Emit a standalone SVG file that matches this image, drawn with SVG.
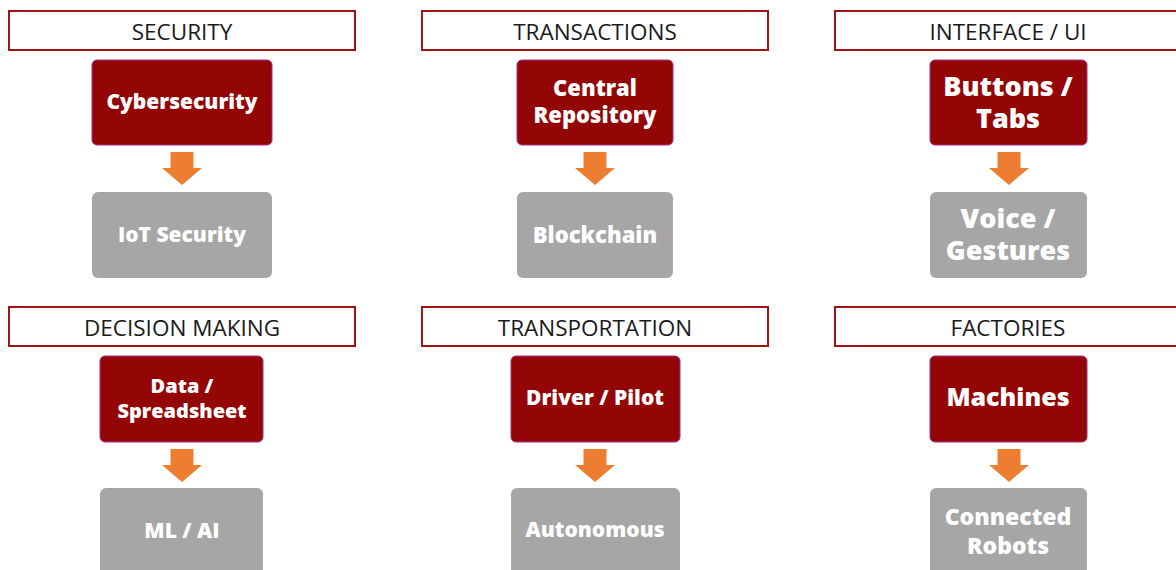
<svg xmlns="http://www.w3.org/2000/svg" width="1176" height="570" viewBox="0 0 1176 570">
<defs>
<style>
.hdr{fill:#fff;stroke:#9e1414;stroke-width:2}
.ht{font-family:"Open Sans","Liberation Sans",sans-serif;font-size:22.5px;fill:#1a1a1a;text-anchor:middle;dominant-baseline:central}
.red{fill:#940606;stroke:#a0308a;stroke-width:1}
.gry{fill:#a6a6a6}
.bt{font-family:"Open Sans","Noto Sans",sans-serif;font-weight:800;fill:#fff;text-anchor:middle;dominant-baseline:central}
.arr{fill:#ed7d31}
</style>
<path id="ar" d="M-11.5,0 H11.5 V16 H20 L0,33 L-20,16 H-11.5 Z"/>
</defs>
<rect width="1176" height="570" fill="#fff"/>
<g id="security">
<rect class="hdr" x="9" y="11" width="346" height="39"/>
<text class="ht" x="182" y="31">SECURITY</text>
</g>
<g id="transactions">
<rect class="hdr" x="422" y="11" width="346" height="39"/>
<text class="ht" x="595" y="31">TRANSACTIONS</text>
</g>
<g id="interface">
<rect class="hdr" x="835" y="11" width="346" height="39"/>
<text class="ht" x="1008" y="31">INTERFACE / UI</text>
</g>
<g id="decision">
<rect class="hdr" x="9" y="307" width="346" height="39"/>
<text class="ht" x="182" y="327">DECISION MAKING</text>
</g>
<g id="transportation">
<rect class="hdr" x="422" y="307" width="346" height="39"/>
<text class="ht" x="595" y="327">TRANSPORTATION</text>
</g>
<g id="factories">
<rect class="hdr" x="835" y="307" width="346" height="39"/>
<text class="ht" x="1008" y="327">FACTORIES</text>
</g>

<g id="cybersecurity">
<rect class="red" x="92" y="60" width="180" height="85" rx="5"/>
<text class="bt" x="182" y="101" font-size="21">Cybersecurity</text>
</g>
<g id="iot-security">
<rect class="gry" x="92" y="192" width="180" height="86" rx="6"/>
<text class="bt" x="182" y="234" font-size="21">IoT Security</text>
</g>
<g id="central-repository">
<rect class="red" x="517" y="60" width="156" height="85" rx="5"/>
<text class="bt" x="595" y="100" font-size="22"><tspan x="595" dy="-13">Central</tspan><tspan x="595" dy="27">Repository</tspan></text>
</g>
<g id="blockchain">
<rect class="gry" x="517" y="192" width="156" height="86" rx="6"/>
<text class="bt" x="595" y="234" font-size="22">Blockchain</text>
</g>
<g id="buttons-tabs">
<rect class="red" x="930" y="60" width="157" height="85" rx="5"/>
<text class="bt" x="1008" y="101" font-size="27"><tspan x="1008" dy="-16">Buttons /</tspan><tspan x="1008" dy="32">Tabs</tspan></text>
</g>
<g id="voice-gestures">
<rect class="gry" x="930" y="192" width="157" height="86" rx="6"/>
<text class="bt" x="1008" y="233" font-size="27"><tspan x="1008" dy="-16">Voice /</tspan><tspan x="1008" dy="32">Gestures</tspan></text>
</g>
<g id="data-spreadsheet">
<rect class="red" x="100" y="356" width="163" height="86" rx="5"/>
<text class="bt" x="182" y="397" font-size="20"><tspan x="182" dy="-12">Data /</tspan><tspan x="182" dy="25">Spreadsheet</tspan></text>
</g>
<g id="ml-ai">
<rect class="gry" x="100" y="488" width="163" height="90" rx="6"/>
<text class="bt" x="182" y="530" font-size="21">ML / AI</text>
</g>
<g id="driver-pilot">
<rect class="red" x="511" y="356" width="169" height="86" rx="5"/>
<text class="bt" x="595" y="397" font-size="21">Driver / Pilot</text>
</g>
<g id="autonomous">
<rect class="gry" x="511" y="488" width="169" height="90" rx="6"/>
<text class="bt" x="595" y="529" font-size="21">Autonomous</text>
</g>
<g id="machines">
<rect class="red" x="930" y="356" width="157" height="86" rx="5"/>
<text class="bt" x="1008" y="396" font-size="25">Machines</text>
</g>
<g id="connected-robots">
<rect class="gry" x="930" y="488" width="157" height="90" rx="6"/>
<text class="bt" x="1008" y="530" font-size="23"><tspan x="1008" dy="-14">Connected</tspan><tspan x="1008" dy="29">Robots</tspan></text>
</g>

<g id="connectors">
<use href="#ar" class="arr" x="182" y="152"/>
<use href="#ar" class="arr" x="595" y="152"/>
<use href="#ar" class="arr" x="1009" y="152"/>
<use href="#ar" class="arr" x="182" y="449"/>
<use href="#ar" class="arr" x="595" y="449"/>
<use href="#ar" class="arr" x="1009" y="449"/>
</g>
</svg>
